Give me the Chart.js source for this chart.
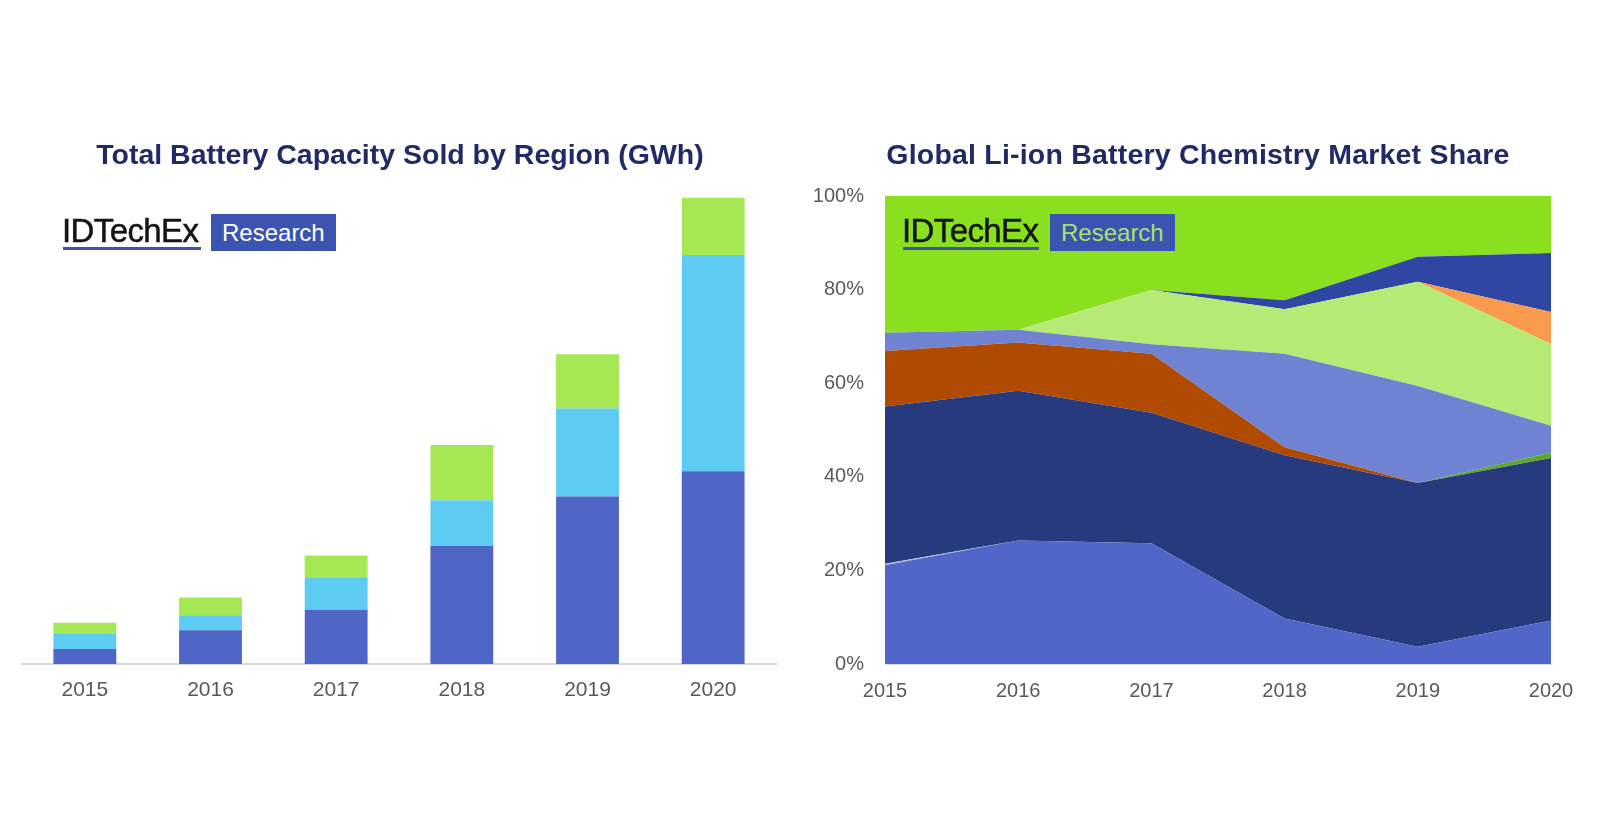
<!DOCTYPE html>
<html>
<head>
<meta charset="utf-8">
<script src="https://cdn.jsdelivr.net/npm/chart.js@4.4.1/dist/chart.umd.min.js"></script>
<style>
  html, body { margin: 0; padding: 0; background: #ffffff; }
  body { width: 1598px; height: 837px; position: relative; overflow: hidden; font-family: "Liberation Sans", Arial, sans-serif; }
  .wrap { position: absolute; top: 0; height: 837px; }
  .title { position: absolute; top: 140px; height: 28px; line-height: 28px; font-size: 28.5px; letter-spacing: 0.2px; font-weight: bold; color: #1f2a66; text-align: center; white-space: nowrap; z-index: 2; }
  .logo-text { position: absolute; top: 214px; height: 33px; line-height: 33px; font-size: 33px; color: #141414; letter-spacing: -0.6px; -webkit-text-stroke: 0.5px #141414; white-space: nowrap; z-index: 2; }
  .logo-line { position: absolute; top: 247px; height: 3px; background: #3f51a8; z-index: 2; }
  .logo-box { position: absolute; top: 214px; height: 37px; line-height: 37px; font-size: 24px; background: #3b54b1; box-sizing: border-box; padding-left: 11px; white-space: nowrap; z-index: 2; }
</style>
</head>
<body>
<script>
// ---------- data ----------
const years = ['2015', '2016', '2017', '2018', '2019', '2020'];

// Left chart: Total Battery Capacity Sold by Region (GWh), stacked segments
const regionBlue  = [16, 36, 58, 126, 179, 206];
const regionCyan  = [16, 16, 34, 49, 94, 231];
const regionGreen = [12, 19, 24, 59, 58, 61];

// Right chart: chemistry market share (%), stacked from bottom
const chemBlue       = [21.1, 26.4, 25.8, 9.7, 3.7, 9.3];
const chemThin       = [0.3, 0, 0, 0, 0, 0];
const chemNavy       = [33.6, 32.0, 27.9, 34.9, 35.0, 34.7];
const chemSmallGreen = [0, 0, 0, 0, 0, 1.2];
const chemBrown      = [11.9, 10.3, 12.6, 1.7, 0, 0];
const chemPeriwinkle = [3.9, 2.7, 2.0, 20.0, 20.7, 5.7];
const chemLightGreen = [0, 0, 11.6, 9.5, 22.3, 17.5];
const chemOrange     = [0, 0, 0, 0, 0, 6.8];
const chemRoyal      = [0, 0, 0, 1.9, 5.3, 12.6];
const chemTopGreen   = [29.2, 28.6, 20.1, 22.3, 13.0, 12.2];

const percentTicks = [0, 20, 40, 60, 80, 100];
</script>

<div class="title" style="left:0; width:800px; letter-spacing:0;">Total Battery Capacity Sold by Region (GWh)</div>
<div class="title" style="left:798px; width:800px;">Global Li-ion Battery Chemistry Market Share</div>

<div class="logo-text" style="left:62px;">IDTechEx</div>
<div class="logo-line" style="left:63px; width:138px;"></div>
<div class="logo-box" style="left:211px; width:125px; color:#ffffff;">Research</div>

<div class="logo-text" style="left:902px;">IDTechEx</div>
<div class="logo-line" style="left:903px; width:136px;"></div>
<div class="logo-box" style="left:1050px; width:125px; color:#a9e26b;">Research</div>

<div class="wrap" style="left:0; width:800px;"><canvas id="c1" width="800" height="837"></canvas></div>
<div class="wrap" style="left:800px; width:798px;"><canvas id="c2" width="798" height="837"></canvas></div>

<script>
Chart.defaults.font.family = '"Liberation Sans", Arial, sans-serif';
Chart.defaults.color = '#595959';

new Chart(document.getElementById('c1'), {
  type: 'bar',
  data: {
    labels: years,
    datasets: [
      { data: regionBlue,  backgroundColor: '#4f66c6' },
      { data: regionCyan,  backgroundColor: '#5ecbf2' },
      { data: regionGreen, backgroundColor: '#a6e853' }
    ]
  },
  options: {
    responsive: false,
    devicePixelRatio: 1,
    animation: false,
    layout: { padding: { left: 22, right: 24, top: 196, bottom: 123 } },
    plugins: { legend: { display: false }, tooltip: { enabled: false }, title: { display: false } },
    datasets: { bar: { categoryPercentage: 1, barPercentage: 0.5, borderWidth: 0 } },
    scales: {
      x: {
        stacked: true,
        grid: { display: false, drawTicks: false },
        border: { display: true, color: '#d6d6d6', width: 2 },
        ticks: { font: { size: 21 }, color: '#595959', padding: 14, maxRotation: 0 },
        afterFit: (s) => { s.height = 50; }
      },
      y: { stacked: true, display: false, min: 0, max: 500 }
    }
  }
});

const areaSets = [
  [chemBlue, '#5066c8'],
  [chemThin, '#aab8d6'],
  [chemNavy, '#263a7d'],
  [chemSmallGreen, '#5ea829'],
  [chemBrown, '#b04a00'],
  [chemPeriwinkle, '#7083d2'],
  [chemLightGreen, '#b5ea75'],
  [chemOrange, '#f99a4c'],
  [chemRoyal, '#2f47a3'],
  [chemTopGreen, '#8ae01e']
];

new Chart(document.getElementById('c2'), {
  type: 'line',
  data: {
    labels: years,
    datasets: areaSets.map((d, i) => ({
      data: d[0],
      backgroundColor: d[1],
      borderColor: d[1],
      borderWidth: 0,
      pointRadius: 0,
      tension: 0,
      fill: i === 0 ? 'origin' : '-1'
    }))
  },
  options: {
    responsive: false,
    devicePixelRatio: 1,
    animation: false,
    layout: { padding: { left: 0, right: 47, top: 196, bottom: 123 } },
    plugins: { legend: { display: false }, tooltip: { enabled: false }, title: { display: false } },
    scales: {
      x: {
        offset: false,
        grid: { display: false, drawTicks: false },
        border: { display: true, color: '#dcdcdc', width: 1 },
        ticks: { font: { size: 20 }, color: '#595959', padding: 15, maxRotation: 0 },
        afterFit: (s) => { s.height = 50; }
      },
      y: {
        stacked: true,
        min: 0,
        max: 100,
        grid: { display: false, drawTicks: false },
        border: { display: false },
        afterBuildTicks: (s) => { s.ticks = percentTicks.map(v => ({ value: v })); },
        ticks: { font: { size: 20 }, color: '#595959', padding: 21, callback: (v) => v + '%' },
        afterFit: (s) => { s.width = 85; }
      }
    }
  }
});
</script>
</body>
</html>
